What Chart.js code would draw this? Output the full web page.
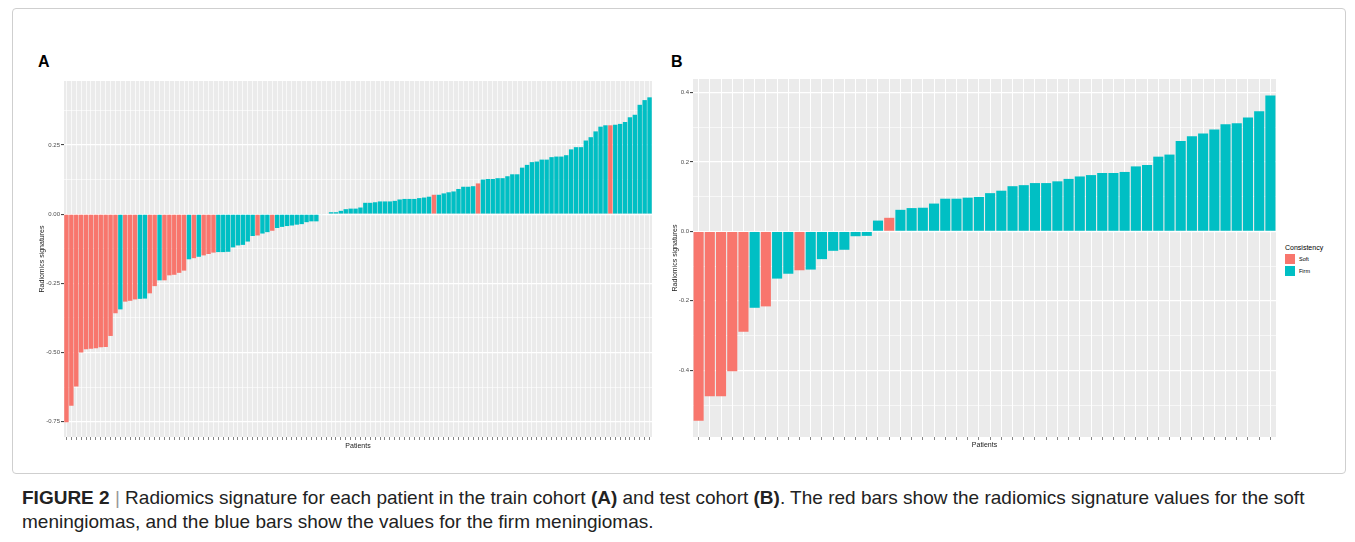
<!DOCTYPE html>
<html><head><meta charset="utf-8">
<script src="https://cdn.jsdelivr.net/npm/chart.js@4.4.1/dist/chart.umd.min.js"></script>
<style>
html,body{margin:0;padding:0;background:#fff;width:1355px;height:542px;overflow:hidden;font-family:"Liberation Sans",Arial,sans-serif;}
#frame{position:absolute;left:12px;top:8px;width:1332px;height:464px;border:1px solid #cfcfcf;border-radius:4px;}
.plab{position:absolute;font-weight:bold;font-size:16px;color:#000;line-height:16px;}
canvas{position:absolute;}
#legend{position:absolute;left:1285px;top:243px;color:#000;}
#legend .lt{font-size:7px;line-height:9px;margin-bottom:2px;}
#legend .li{font-size:5.5px;line-height:10px;height:10px;margin-bottom:1.7px;display:flex;align-items:center;}
#legend .sw{display:inline-block;width:10px;height:10px;margin-right:4px;}
#caption{position:absolute;left:22px;top:486px;font-size:19px;line-height:24px;color:#222;white-space:nowrap;}
#caption .sep{color:#999;font-weight:normal;}
</style></head>
<body>
<div id="frame"></div>
<div class="plab" style="left:38px;top:54px;">A</div>
<div class="plab" style="left:671px;top:54px;">B</div>
<canvas id="chartA" width="619" height="375" style="left:38px;top:75px;width:619px;height:375px;"></canvas>
<canvas id="chartB" width="610" height="375" style="left:671px;top:74px;width:610px;height:375px;"></canvas>
<div id="legend">
  <div class="lt">Consistency</div>
  <div class="li"><span class="sw" id="swSoft"></span><span>Soft</span></div>
  <div class="li"><span class="sw" id="swFirm"></span><span>Firm</span></div>
</div>
<div id="caption"><b>FIGURE 2</b> <span class="sep">|</span> Radiomics signature for each patient in the train cohort <b>(A)</b> and test cohort <b>(B)</b>. The red bars show the radiomics signature values for the soft<br>meningiomas, and the blue bars show the values for the firm meningiomas.</div>
<script>
// ---------- DATA ----------
// Train cohort (A): radiomics signature per patient, sorted
const valuesA = [
 -0.752,-0.692,-0.623,-0.500,-0.488,-0.486,-0.484,-0.481,-0.480,-0.440,
 -0.358,-0.344,-0.316,-0.313,-0.308,-0.306,-0.305,-0.286,-0.260,-0.239,
 -0.239,-0.221,-0.219,-0.212,-0.204,-0.163,-0.159,-0.154,-0.149,-0.144,
 -0.139,-0.137,-0.137,-0.136,-0.120,-0.113,-0.111,-0.099,-0.079,-0.077,
 -0.070,-0.065,-0.060,-0.050,-0.046,-0.043,-0.041,-0.038,-0.036,-0.029,
 -0.026,-0.026,-0.002,0.000,0.007,0.007,0.012,0.018,0.020,0.020,
 0.024,0.041,0.041,0.043,0.046,0.046,0.046,0.048,0.053,0.055,
 0.055,0.055,0.058,0.060,0.063,0.070,0.070,0.075,0.079,0.082,
 0.091,0.099,0.099,0.101,0.111,0.125,0.127,0.127,0.130,0.130,
 0.137,0.144,0.144,0.168,0.178,0.188,0.190,0.197,0.197,0.206,
 0.208,0.208,0.213,0.234,0.242,0.242,0.266,0.278,0.299,0.316,
 0.321,0.321,0.323,0.326,0.333,0.350,0.359,0.395,0.412,0.422
];
// S = soft, F = firm
const consistencyA = [
 'S','S','S','S','S','S','S','S','S','S',
 'S','F','S','S','S','F','F','S','S','F',
 'S','S','S','S','S','F','S','F','S','S',
 'S','F','F','F','F','F','F','F','F','S',
 'F','F','S','F','F','F','F','F','F','F',
 'F','F','F','F','F','F','F','F','F','F',
 'F','F','F','F','F','F','F','F','F','F',
 'F','F','F','F','F','S','F','F','F','F',
 'F','F','F','F','S','F','F','F','F','F',
 'F','F','F','F','F','F','F','F','F','F',
 'F','F','F','F','F','F','F','F','F','F',
 'F','S','F','F','F','F','F','F','F','F'
];
// Test cohort (B)
const valuesB = [
 -0.545,-0.475,-0.475,-0.403,-0.289,-0.220,-0.216,-0.136,-0.122,-0.112,
 -0.110,-0.080,-0.056,-0.053,-0.014,-0.013,0.031,0.039,0.062,0.067,
 0.068,0.080,0.094,0.094,0.097,0.099,0.110,0.117,0.130,0.133,
 0.139,0.139,0.144,0.151,0.158,0.162,0.168,0.168,0.171,0.187,
 0.191,0.215,0.221,0.260,0.274,0.282,0.293,0.308,0.311,0.328,
 0.346,0.391
];
const consistencyB = [
 'S','S','S','S','S','F','S','F','F','S',
 'F','F','F','F','F','F','F','S','F','F',
 'F','F','F','F','F','F','F','F','F','F',
 'F','F','F','F','F','F','F','F','F','F',
 'F','F','F','F','F','F','F','F','F','F',
 'F','F'
];
const patientsA = valuesA.map((_, i) => String(i + 1));
const patientsB = valuesB.map((_, i) => String(i + 1));

const yMajorA = [-0.75, -0.5, -0.25, 0, 0.25];
const yMajorLabelsA = ['-0.75', '-0.50', '-0.25', '0.00', '0.25'];
const yMinorA = [-0.625, -0.375, -0.125, 0.125, 0.375];
const yMajorB = [-0.4, -0.2, 0, 0.2, 0.4];
const yMajorLabelsB = ['-0.4', '-0.2', '0.0', '0.2', '0.4'];
const yMinorB = [-0.5, -0.3, -0.1, 0.1, 0.3];

const legendLabels = ['Soft', 'Firm'];
// ---------- STYLE ----------
const COLORS = { S: '#F8766D', F: '#00BFC4' };
document.getElementById('swSoft').style.background = COLORS.S;
document.getElementById('swFirm').style.background = COLORS.F;

const FONT = '"Liberation Sans", Arial, sans-serif';

const panelBg = {
  id: 'panelBg',
  beforeDraw(chart) {
    const { ctx, chartArea: { left, top, width, height } } = chart;
    ctx.save();
    ctx.fillStyle = '#EBEBEB';
    ctx.fillRect(left, top, width, height);
    ctx.restore();
  }
};

function makeChart(id, labels, values, cons, yMin, yMax, majors, majorLabels, minors, pad, yAxisW, xAxisH, vLineW) {
  const allTicks = majors.concat(minors).sort((a, b) => a - b);
  return new Chart(document.getElementById(id), {
    type: 'bar',
    data: {
      labels: labels,
      datasets: [{
        data: values,
        backgroundColor: cons.map(c => COLORS[c]),
        borderWidth: 0,
        barPercentage: 0.9,
        categoryPercentage: 1.0
      }]
    },
    plugins: [panelBg],
    options: {
      responsive: false,
      animation: false,
      events: [],
      layout: { padding: pad },
      plugins: { legend: { display: false }, tooltip: { enabled: false } },
      scales: {
        x: {
          type: 'category',
          offset: true,
          border: { display: false },
          grid: {
            offset: false,
            color: '#FFFFFF',
            lineWidth: vLineW,
            drawTicks: true,
            tickLength: 3,
            tickColor: '#333333',
            tickWidth: 0.6
          },
          ticks: { autoSkip: false, maxRotation: 0, callback: () => '', padding: 0, font: { size: 1 } },
          title: { display: true, text: 'Patients', font: { family: FONT, size: 7 }, color: '#1A1A1A', padding: 0 },
          afterFit: s => { s.height = xAxisH; }
        },
        y: {
          min: yMin,
          max: yMax,
          border: { display: false },
          afterBuildTicks: s => { s.ticks = allTicks.map(v => ({ value: v })); },
          grid: {
            color: '#FFFFFF',
            lineWidth: ctx => (ctx.tick && majors.includes(ctx.tick.value)) ? 1.2 : 0.6,
            tickLength: 3,
            tickWidth: 1,
            tickColor: ctx => (ctx.tick && majors.includes(ctx.tick.value)) ? '#333333' : 'rgba(0,0,0,0)'
          },
          ticks: {
            autoSkip: false,
            padding: 1,
            color: '#4D4D4D',
            font: { family: FONT, size: 6 },
            callback: v => { const i = majors.indexOf(v); return i >= 0 ? majorLabels[i] : ''; }
          },
          title: { display: true, text: 'Radiomics signatures', font: { family: FONT, size: 7 }, color: '#1A1A1A', padding: 0 },
          afterFit: s => { s.width = yAxisW; }
        }
      }
    }
  });
}

makeChart('chartA', patientsA, valuesA, consistencyA, -0.805, 0.481,
  yMajorA, yMajorLabelsA, yMinorA, { top: 6, right: 5, bottom: 0, left: 0 }, 26, 13, 0.7);
makeChart('chartB', patientsB, valuesB, consistencyB, -0.592, 0.4386,
  yMajorB, yMajorLabelsB, yMinorB, { top: 5, right: 5, bottom: 0, left: 0 }, 22, 12, 1);
</script>
</body></html>
